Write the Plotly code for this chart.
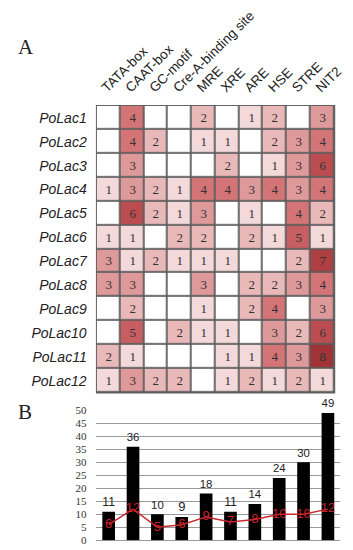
import plotly.graph_objects as go

elements = ["TATA-box", "CAAT-box", "GC-motif", "Cre-A-binding site", "MRE",
            "XRE", "ARE", "HSE", "STRE", "NIT2"]
genes = ["PoLac1", "PoLac2", "PoLac3", "PoLac4", "PoLac5", "PoLac6",
         "PoLac7", "PoLac8", "PoLac9", "PoLac10", "PoLac11", "PoLac12"]
counts = [
    [0, 4, 0, 0, 2, 0, 1, 2, 0, 3],
    [0, 4, 2, 0, 1, 1, 0, 2, 3, 4],
    [0, 3, 0, 0, 0, 2, 0, 1, 3, 6],
    [1, 3, 2, 1, 4, 4, 3, 4, 3, 4],
    [0, 6, 2, 1, 3, 0, 1, 0, 4, 2],
    [1, 1, 0, 2, 2, 0, 2, 1, 5, 1],
    [3, 1, 2, 1, 1, 1, 0, 0, 2, 7],
    [3, 3, 0, 0, 3, 0, 2, 2, 3, 4],
    [0, 2, 0, 0, 1, 0, 2, 4, 0, 3],
    [0, 5, 0, 2, 1, 1, 0, 3, 2, 6],
    [2, 1, 0, 0, 0, 1, 1, 4, 3, 8],
    [1, 3, 2, 2, 0, 1, 2, 1, 2, 1],
]
totals = [11, 36, 10, 9, 18, 11, 14, 24, 30, 49]
gene_counts = [6, 12, 5, 6, 9, 7, 8, 10, 10, 12]

W, H = 353, 550
def px(x):
    return x / W
def py(y):
    return 1 - y / H

cell_text = [[str(v) if v else "" for v in row] for row in counts]

colorscale = [
    [0.0, "#ffffff"], [0.125, "#f3d9d9"], [0.25, "#e9b8b9"], [0.375, "#de999b"],
    [0.5, "#d37477"], [0.625, "#c75f62"], [0.75, "#bb4d50"], [0.875, "#ae3f43"],
    [1.0, "#a13338"],
]

fig = go.Figure()
fig.add_trace(go.Heatmap(
    z=counts, x=elements, y=genes, text=cell_text, texttemplate="%{text}",
    textfont=dict(family="Liberation Serif", size=13, color="#333"),
    colorscale=colorscale, zmin=0, zmax=8, showscale=False,
    xgap=1.8, ygap=1.8, xaxis="x", yaxis="y", hoverinfo="skip",
))

fig.add_trace(go.Bar(
    x=elements, y=totals, marker=dict(color="black", line=dict(width=0)),
    width=0.52, text=[str(v) for v in totals], textposition="outside",
    textfont=dict(family="Liberation Sans", size=13, color="#222"),
    cliponaxis=False, xaxis="x2", yaxis="y2",
))
fig.add_trace(go.Scatter(
    x=elements, y=gene_counts, mode="lines+text",
    line=dict(color="#c8282e", width=1.5),
    text=[str(v) for v in gene_counts], textposition="middle center",
    textfont=dict(family="Liberation Sans", size=13, color="#d0202a"),
    cliponaxis=False, xaxis="x2", yaxis="y2",
))

fig.add_shape(type="rect", xref="x domain", yref="y domain", x0=0, x1=1, y0=0, y1=1,
              fillcolor="#5e5e5e", line=dict(color="#5e5e5e", width=1.5), layer="below")

fig.update_layout(
    width=W, height=H, margin=dict(l=0, r=0, t=0, b=0),
    paper_bgcolor="white", plot_bgcolor="white", showlegend=False,
    xaxis=dict(domain=[px(91), px(335)], anchor="y", side="top", tickangle=-45,
               tickfont=dict(family="Liberation Sans", size=13.5, color="#222"),
               showgrid=False, zeroline=False, ticks="", ticklabelstandoff=7,
               ticklabelshift=-6),
    yaxis=dict(domain=[py(387), py(93)], anchor="x", autorange="reversed",
               tickfont=dict(family="Liberation Sans", size=14, color="#222", style="italic"),
               showgrid=False, zeroline=False, ticks="", ticklabelstandoff=9),
    xaxis2=dict(domain=[px(90.8), px(340.8)], anchor="y2", showticklabels=False,
                showgrid=False, zeroline=False, ticks=""),
    yaxis2=dict(domain=[py(538), py(405)], anchor="x2", range=[0, 50], dtick=5,
                tickfont=dict(family="Liberation Serif", size=11, color="#333"),
                showgrid=True, gridcolor="#9a9a9a", gridwidth=1, zeroline=True,
                zerolinecolor="#9a9a9a", zerolinewidth=1, ticks="", ticklabelstandoff=9),
    annotations=[
        dict(text="A", x=px(8), y=py(33), xref="paper", yref="paper", xanchor="left",
             yanchor="middle", showarrow=False,
             font=dict(family="Liberation Serif", size=21, color="#222")),
        dict(text="B", x=px(8), y=py(407), xref="paper", yref="paper", xanchor="left",
             yanchor="middle", showarrow=False,
             font=dict(family="Liberation Serif", size=21, color="#222")),
    ],
)

fig.write_html("out.html")
